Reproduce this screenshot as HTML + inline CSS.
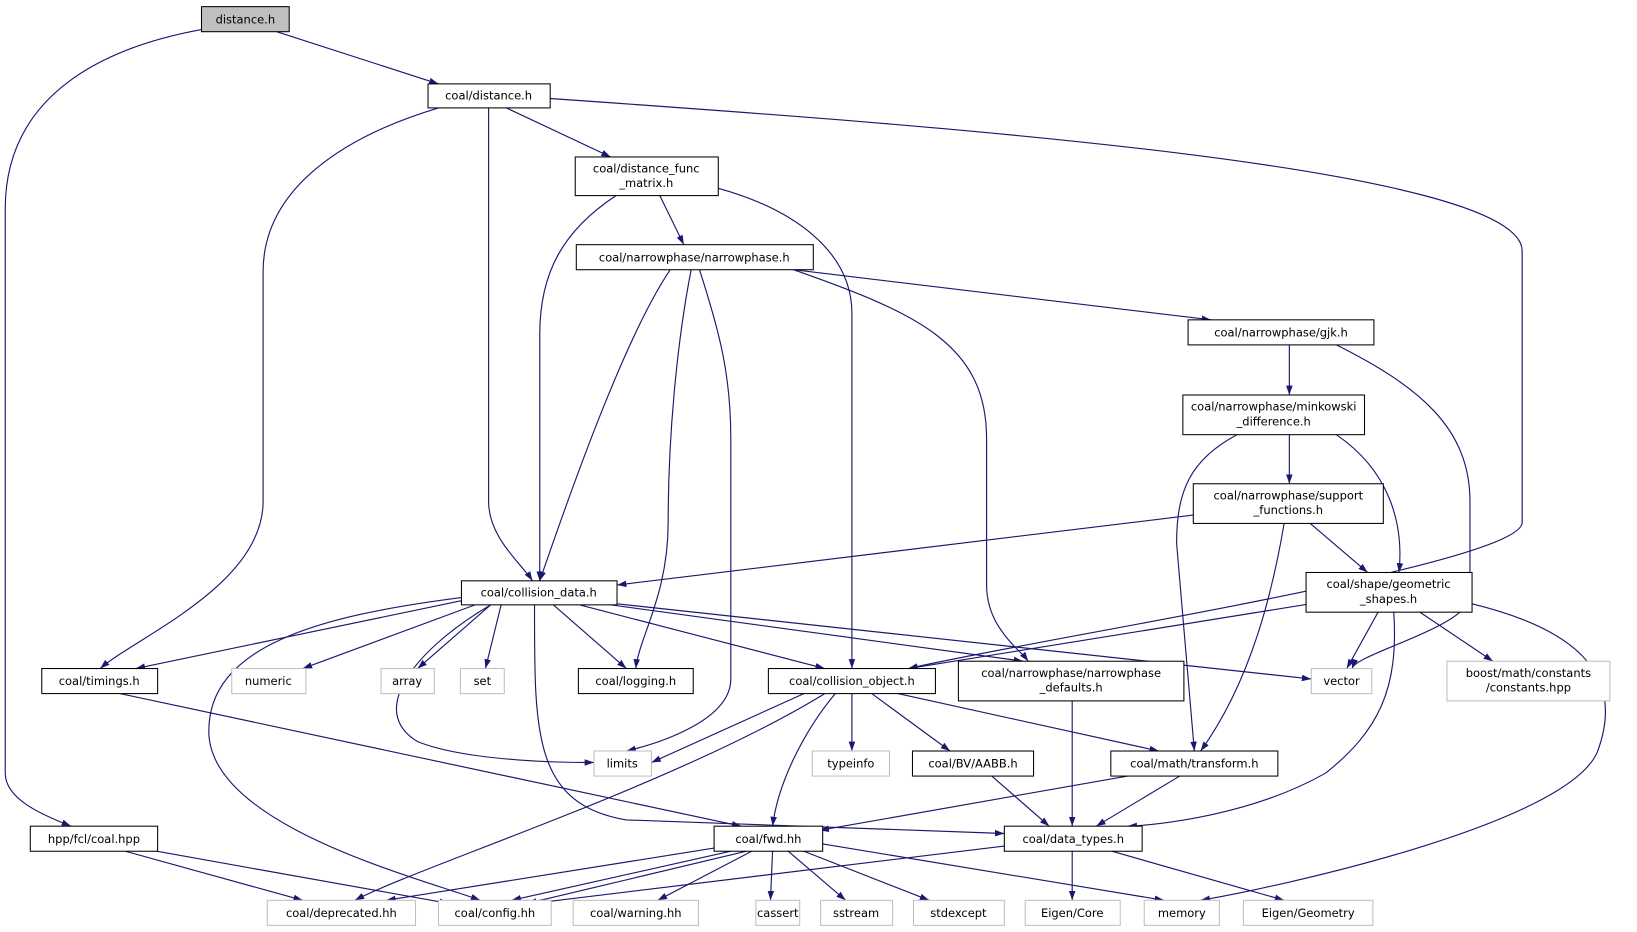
<!DOCTYPE html>
<html><head><meta charset="utf-8"><style>
html,body{margin:0;padding:0;background:#fff;}
svg{display:block}
text{font-family:"DejaVu Sans","Liberation Sans",sans-serif;font-size:11px;fill:#000;text-anchor:middle}
.e{fill:none;stroke:#191970;stroke-width:1.1;marker-end:url(#a)}
.n{fill:#fff;stroke:#000;stroke-width:1}
.g{fill:#fff;stroke:#bfbfbf;stroke-width:1}
</style></head><body>
<svg width="1637" height="932" viewBox="0 0 1568 892" xmlns="http://www.w3.org/2000/svg">
<defs><marker id="a" viewBox="0 0 10 10" refX="10" refY="5" markerWidth="9" markerHeight="9" markerUnits="userSpaceOnUse" orient="auto"><path d="M0,1.5 L10,5 L0,8.5 z" fill="#191970"/></marker></defs>
<g>
<path class="e" d="M265,30 L420,80"/>
<path class="e" d="M193,28 C100,45 5,90 5,200 L5,740 C5,765 40,780 68,791"/>
<path class="e" d="M485,103 L585,150"/>
<path class="e" d="M468,103 L468,480 C468,515 500,540 510,556"/>
<path class="e" d="M420,103 C330,130 252,180 252,260 L252,480 C252,560 130,610 96,640"/>
<path class="e" d="M527,94 C900,120 1458,160 1458,240 L1458,500 C1458,540 1000,610 870,640"/>
<path class="e" d="M632,187 L655,234"/>
<path class="e" d="M590,187 C540,220 517,260 517,320 L517,556"/>
<path class="e" d="M688,180 C760,200 816,240 816,300 L816,640"/>
<path class="e" d="M642,258 C600,320 550,460 517,556"/>
<path class="e" d="M662,258 C648,330 640,420 640,500 C640,570 612,610 609,640"/>
<path class="e" d="M670,258 C690,320 700,360 700,420 L700,650 C700,690 630,712 600,719"/>
<path class="e" d="M760,258 L1160,306"/>
<path class="e" d="M760,258 C880,300 945,330 945,420 L945,560 C945,600 975,620 985,633"/>
<path class="e" d="M1235,330 L1235,378"/>
<path class="e" d="M1280,330 C1360,370 1408,410 1408,480 L1408,570 C1408,600 1300,625 1295,640"/>
<path class="e" d="M1235,416 L1235,463"/>
<path class="e" d="M1280,416 C1330,450 1345,500 1340,548"/>
<path class="e" d="M1185,416 C1140,440 1127,470 1127,520 L1144,719"/>
<path class="e" d="M1143,493 L591,560"/>
<path class="e" d="M1255,501 L1310,548"/>
<path class="e" d="M1230,501 C1220,560 1200,650 1150,719"/>
<path class="e" d="M1255,578 L870,640"/>
<path class="e" d="M1320,586 L1290,640"/>
<path class="e" d="M1360,586 L1430,633"/>
<path class="e" d="M1410,578 C1500,600 1560,640 1530,720 C1500,790 1220,850 1150,862"/>
<path class="e" d="M1335,586 C1340,660 1320,700 1270,740 C1200,780 1110,790 1080,791"/>
<path class="e" d="M442,575 L130,640"/>
<path class="e" d="M455,579 L290,640"/>
<path class="e" d="M470,579 L400,640"/>
<path class="e" d="M480,579 L465,640"/>
<path class="e" d="M530,579 L600,640"/>
<path class="e" d="M555,579 L790,640"/>
<path class="e" d="M585,579 L980,633"/>
<path class="e" d="M591,578 L1256,650"/>
<path class="e" d="M470,579 C400,620 350,680 400,710 C450,730 550,730 569,730"/>
<path class="e" d="M442,572 C300,590 200,620 200,700 C200,790 400,840 460,862"/>
<path class="e" d="M512,579 C512,700 510,770 600,785 L962,798"/>
<path class="e" d="M115,664 L710,791"/>
<path class="e" d="M120,815 L290,862"/>
<path class="e" d="M150,815 L430,865"/>
<path class="e" d="M770,664 L624,730"/>
<path class="e" d="M816,664 L816,719"/>
<path class="e" d="M835,664 L910,719"/>
<path class="e" d="M860,664 L1110,719"/>
<path class="e" d="M800,664 C770,700 745,750 740,791"/>
<path class="e" d="M790,664 C650,750 400,830 340,862"/>
<path class="e" d="M1027,671 L1027,791"/>
<path class="e" d="M950,743 L1005,791"/>
<path class="e" d="M1080,743 L785,795"/>
<path class="e" d="M1130,743 L1050,791"/>
<path class="e" d="M690,811 L370,862"/>
<path class="e" d="M700,815 L490,862"/>
<path class="e" d="M715,815 L505,865"/>
<path class="e" d="M720,815 L630,862"/>
<path class="e" d="M740,815 L738,862"/>
<path class="e" d="M755,815 L810,862"/>
<path class="e" d="M770,815 L890,862"/>
<path class="e" d="M788,808 L1115,862"/>
<path class="e" d="M962,810 L510,865"/>
<path class="e" d="M1027,815 L1027,862"/>
<path class="e" d="M1065,815 L1230,862"/>
</g>
<g>
<rect x="193" y="6" width="84" height="24" fill="#bfbfbf" stroke="#000"/><text x="235" y="22">distance.h</text>
<rect class="n" x="410" y="80" width="117" height="23"/><text x="468" y="95">coal/distance.h</text>
<rect class="n" x="551" y="150" width="137" height="37"/><text x="619" y="165">coal/distance_func</text><text x="619" y="179">_matrix.h</text>
<rect class="n" x="552" y="234" width="227" height="24"/><text x="665" y="250">coal/narrowphase/narrowphase.h</text>
<rect class="n" x="1138" y="306" width="178" height="24"/><text x="1227" y="322">coal/narrowphase/gjk.h</text>
<rect class="n" x="1133" y="378" width="174" height="38"/><text x="1220" y="393">coal/narrowphase/minkowski</text><text x="1220" y="407">_difference.h</text>
<rect class="n" x="1143" y="463" width="182" height="38"/><text x="1234" y="478">coal/narrowphase/support</text><text x="1234" y="492">_functions.h</text>
<rect class="n" x="1251" y="548" width="159" height="38"/><text x="1330" y="563">coal/shape/geometric</text><text x="1330" y="577">_shapes.h</text>
<rect class="n" x="442" y="556" width="149" height="23"/><text x="516" y="571">coal/collision_data.h</text>
<rect class="n" x="40" y="640" width="111" height="24"/><text x="95" y="656">coal/timings.h</text>
<rect class="g" x="222" y="640" width="71" height="24"/><text x="257" y="656">numeric</text>
<rect class="g" x="365" y="640" width="51" height="24"/><text x="390" y="656">array</text>
<rect class="g" x="441" y="640" width="42" height="24"/><text x="462" y="656">set</text>
<rect class="n" x="554" y="640" width="110" height="24"/><text x="609" y="656">coal/logging.h</text>
<rect class="n" x="736" y="640" width="160" height="24"/><text x="816" y="656">coal/collision_object.h</text>
<rect class="n" x="918" y="633" width="216" height="38"/><text x="1026" y="648">coal/narrowphase/narrowphase</text><text x="1026" y="662">_defaults.h</text>
<rect class="g" x="1256" y="640" width="58" height="24"/><text x="1285" y="656">vector</text>
<rect class="g" x="1386" y="633" width="156" height="38"/><text x="1464" y="648">boost/math/constants</text><text x="1464" y="662">/constants.hpp</text>
<rect class="g" x="569" y="719" width="55" height="24"/><text x="596" y="735">limits</text>
<rect class="g" x="778" y="719" width="74" height="24"/><text x="815" y="735">typeinfo</text>
<rect class="n" x="874" y="719" width="116" height="24"/><text x="932" y="735">coal/BV/AABB.h</text>
<rect class="n" x="1064" y="719" width="160" height="24"/><text x="1144" y="735">coal/math/transform.h</text>
<rect class="n" x="29" y="791" width="122" height="24"/><text x="90" y="807">hpp/fcl/coal.hpp</text>
<rect class="n" x="684" y="791" width="104" height="24"/><text x="736" y="807">coal/fwd.hh</text>
<rect class="n" x="962" y="791" width="132" height="24"/><text x="1028" y="807">coal/data_types.h</text>
<rect class="g" x="256" y="862" width="142" height="24"/><text x="327" y="878">coal/deprecated.hh</text>
<rect class="g" x="420" y="862" width="108" height="24"/><text x="474" y="878">coal/config.hh</text>
<rect class="g" x="549" y="862" width="120" height="24"/><text x="609" y="878">coal/warning.hh</text>
<rect class="g" x="724" y="862" width="42" height="24"/><text x="745" y="878">cassert</text>
<rect class="g" x="786" y="862" width="69" height="24"/><text x="820" y="878">sstream</text>
<rect class="g" x="875" y="862" width="87" height="24"/><text x="918" y="878">stdexcept</text>
<rect class="g" x="982" y="862" width="91" height="24"/><text x="1027" y="878">Eigen/Core</text>
<rect class="g" x="1096" y="862" width="72" height="24"/><text x="1132" y="878">memory</text>
<rect class="g" x="1191" y="862" width="124" height="24"/><text x="1253" y="878">Eigen/Geometry</text>
</g>
</svg>
</body></html>
